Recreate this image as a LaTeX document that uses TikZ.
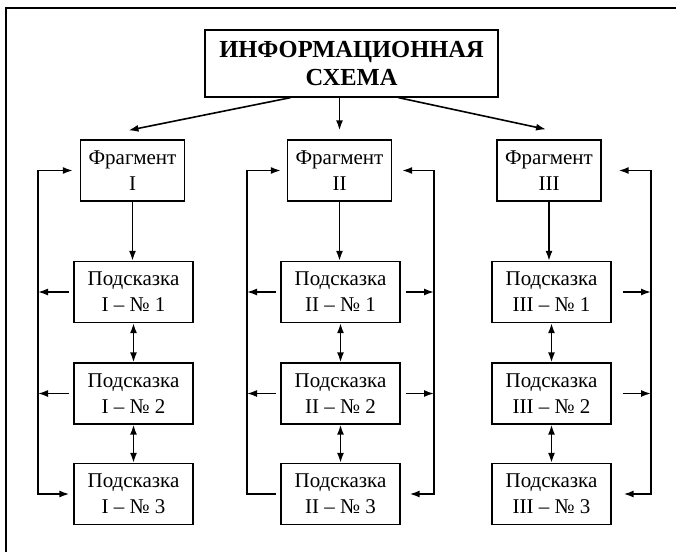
\documentclass[tikz,border=0pt]{standalone}
\usepackage{fontspec}
\setmainfont{Liberation Serif}
\usetikzlibrary{arrows.meta}

\tikzset{
  box/.style={draw, line width=1.3pt, align=center, inner sep=0pt,
    font=\fontsize{21}{26}\selectfont},
  titlebox/.style={box, minimum width=293, minimum height=67,
    font=\fontsize{24.5}{28}\selectfont\bfseries},
  fragbox/.style={box, minimum width=104, minimum height=61},
  hintbox/.style={box, minimum width=119, minimum height=61},
  link/.style={line width=1.6pt, -{Latex[length=10pt,width=7pt]}},
  twolink/.style={line width=1.6pt, {Latex[length=10pt,width=7pt]}-{Latex[length=10pt,width=7pt]}},
  leftlink/.style={line width=1.6pt, {Latex[length=10pt,width=7pt]}-},
}

\begin{document}
\begin{tikzpicture}[x=1pt, y=-1pt]
  \useasboundingbox (0,0) rectangle (676,552);
  %--- page frame (top and left only) ---
  \draw[line width=1.1pt] (6,552) -- (6,8) -- (676,8);

  %--- boxes ---
  \node[titlebox] (title) at (351.5,63.5) {ИНФОРМАЦИОННАЯ\\СХЕМА};

  \node[fragbox] (fragI)   at (132.5,170.5) {Фрагмент\\I};
  \node[fragbox] (fragII)  at (339.5,170.5) {Фрагмент\\II};
  \node[fragbox] (fragIII) at (549,170.5)   {Фрагмент\\III};

  \node[hintbox] (hI1) at (133.5,292)   {Подсказка\\I – № 1};
  \node[hintbox] (hI2) at (133.5,393.5) {Подсказка\\I – № 2};
  \node[hintbox] (hI3) at (133.5,494)   {Подсказка\\I – № 3};

  \node[hintbox] (hII1) at (340.5,292)   {Подсказка\\II – № 1};
  \node[hintbox] (hII2) at (340.5,393.5) {Подсказка\\II – № 2};
  \node[hintbox] (hII3) at (340.5,494)   {Подсказка\\II – № 3};

  \node[hintbox] (hIII1) at (551.5,292)   {Подсказка\\III – № 1};
  \node[hintbox] (hIII2) at (551.5,393.5) {Подсказка\\III – № 2};
  \node[hintbox] (hIII3) at (551.5,494)   {Подсказка\\III – № 3};

  %--- rails ---
  \coordinate (railIL)   at (38,0);
  \coordinate (railIIL)  at (247,0);
  \coordinate (railIIR)  at (434,0);
  \coordinate (railIIIR) at (651,0);

  %--- title to fragments ---
  \draw[link] ([xshift=-61pt]title.south) -- ([xshift=-4pt,yshift=9pt]fragI.north);
  \draw[link] (title.south -| fragII.north) -- ([yshift=9pt]fragII.north);
  \draw[link] ([xshift=47pt]title.south) -- ([xshift=-3pt,yshift=10pt]fragIII.north);

  %--- fragments to first hints ---
  \draw[link] (fragI.south) -- (fragI.south |- hI1.north);
  \draw[link] (fragII.south) -- (fragII.south |- hII1.north);
  \draw[link] (fragIII.south) -- (fragIII.south |- hIII1.north);

  %--- between hints ---
  \foreach \c in {I,II,III}{
    \draw[twolink] (h\c1.south) -- (h\c2.north);
    \draw[twolink] (h\c2.south) -- (h\c3.north);
  }

  %--- column I, left ---
  \draw[twolink] ([xshift=-7pt]fragI.west) -- (railIL |- fragI.west)
    -- (railIL |- hI3.west) -- ([xshift=-4pt]hI3.west);
  \draw[link] ([xshift=-4pt]hI1.west) -- (railIL |- hI1.west);
  \draw[link] ([xshift=-4pt]hI2.west) -- (railIL |- hI2.west);

  %--- column II, left ---
  \draw[leftlink] ([xshift=-6pt]fragII.west) -- (railIIL |- fragII.west)
    -- (railIIL |- hII3.west) -- ([xshift=-4pt]hII3.west);
  \draw[link] ([xshift=-4pt]hII1.west) -- (railIIL |- hII1.west);
  \draw[link] ([xshift=-4pt]hII2.west) -- (railIIL |- hII2.west);

  %--- column II, right ---
  \draw[twolink] ([xshift=10pt]fragII.east) -- (railIIR |- fragII.east)
    -- (railIIR |- hII3.east) -- ([xshift=9pt]hII3.east);
  \draw[link] ([xshift=5pt]hII1.east) -- (railIIR |- hII1.east);
  \draw[link] ([xshift=5pt]hII2.east) -- (railIIR |- hII2.east);

  %--- column III, right ---
  \draw[twolink] ([xshift=17pt]fragIII.east) -- (railIIIR |- fragIII.east)
    -- (railIIIR |- hIII3.east) -- ([xshift=12pt]hIII3.east);
  \draw[link] ([xshift=11pt]hIII1.east) -- (railIIIR |- hIII1.east);
  \draw[link] ([xshift=11pt]hIII2.east) -- (railIIIR |- hIII2.east);
\end{tikzpicture}
\end{document}
